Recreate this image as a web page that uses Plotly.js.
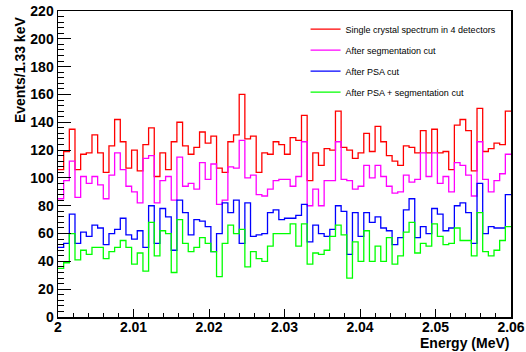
<!DOCTYPE html>
<html>
<head>
<meta charset="utf-8">
<script src="https://cdn.plot.ly/plotly-3.0.1.min.js"></script>
<style>html,body{margin:0;padding:0;background:#fff;}#chart{width:526px;height:352px;}</style>
</head>
<body>
<div id="chart"></div>
<script>
// Histogram binning (MeV)
const binStart = 2.0;
const binWidth = 0.00075;

// Counts per bin
const singleCrystal = [106,119,135,106,117,118,131,118,104,123,142,126,107,120,105,124,136,101,118,106,
126,140,123,117,122,133,125,130,107,104,126,131,160,128,130,104,118,117,126,124,
117,129,127,145,98,118,109,121,120,148,122,120,114,118,132,119,137,126,116,112,
109,123,122,118,134,118,135,118,119,106,138,142,134,105,150,119,121,125,124,148];

const afterSeg = [85,98,112,86,101,96,101,95,85,102,118,106,94,90,82,114,116,82,98,101,
84,115,94,96,92,111,99,110,81,84,108,107,127,100,102,88,87,92,98,99,
99,94,101,126,80,92,80,98,98,126,99,98,92,94,109,100,109,101,94,89,
90,102,97,99,118,101,118,96,101,90,111,109,102,87,126,99,90,98,103,117];

const afterPSA = [50,53,74,53,61,58,66,64,52,60,63,71,59,56,62,50,80,53,78,72,
48,84,75,59,70,69,65,47,60,82,75,84,53,82,58,59,60,75,77,70,
71,71,73,81,54,66,60,58,63,80,76,45,75,58,75,68,72,64,62,52,
57,77,85,57,65,60,78,74,62,64,80,82,75,53,96,60,65,64,64,88];

const afterPSASeg = [35,39,60,41,48,45,50,50,42,47,50,55,50,38,46,33,68,44,62,60,
32,70,53,47,50,57,53,47,29,53,66,60,63,36,47,42,40,51,60,60,
60,67,51,67,38,46,45,48,58,66,59,28,54,40,62,40,51,40,57,38,
44,61,68,46,53,51,67,58,52,53,64,55,55,44,75,47,44,48,55,65];

const seriesNames = ["Single crystal spectrum in 4 detectors","After segmentation cut","After PSA cut","After PSA + segmentation cut"];
const seriesColors = ["#ff0000","#ff00ff","#0000ff","#00ff00"];
const yTickVals = [0,20,40,60,80,100,120,140,160,180,200,220];
const xTickVals = [2,2.01,2.02,2.03,2.04,2.05,2.06];
const xTickText = ["2","2.01","2.02","2.03","2.04","2.05","2.06"];

function stepTrace(counts, name, color){
  const xs = [], ys = [];
  for (let i = 0; i <= counts.length; i++){
    xs.push(binStart + i*binWidth);
    ys.push(i < counts.length ? counts[i] : counts[counts.length-1]);
  }
  return {x: xs, y: ys, type:'scatter', mode:'lines', name: name, legendgroup: name,
          line:{shape:'hv', color: color, width: 1.3}};
}

const allSeries = [singleCrystal, afterSeg, afterPSA, afterPSASeg];
const data = allSeries.map((s,k)=>stepTrace(s, seriesNames[k], seriesColors[k]));

const fontFam = "Liberation Sans, Arial, Helvetica, sans-serif";
const layout = {
  width:526, height:352,
  margin:{l:58, r:15, t:11, b:35},
  paper_bgcolor:'#ffffff', plot_bgcolor:'#ffffff',
  showlegend:true,
  legend:{x:0.5465, y:0.988, xanchor:'left', yanchor:'top', bgcolor:'rgba(255,255,255,0)',
          font:{family:fontFam, size:9, color:'#000'}, tracegroupgap:2, traceorder:'grouped'},
  xaxis:{range:[2,2.06], tickvals:xTickVals, ticktext:xTickText, ticks:'inside', ticklen:8, tickwidth:1,
         tickcolor:'#000', showline:true, linecolor:'#000', linewidth:1.5, mirror:true,
         showgrid:false, zeroline:false, ticklabelstandoff:-3,
         tickfont:{family:fontFam, size:14, color:'#000', weight:'bold'},
         minor:{dtick:0.002, ticks:'inside', ticklen:4, tickcolor:'#000', tickwidth:1, showgrid:false}},
  yaxis:{range:[0,220], tickvals:yTickVals, ticks:'inside', ticklen:13, tickwidth:1,
         tickcolor:'#000', showline:true, linecolor:'#000', linewidth:1.5, mirror:true,
         showgrid:false, zeroline:false,
         tickfont:{family:fontFam, size:14, color:'#000', weight:'bold'},
         minor:{dtick:4, ticks:'inside', ticklen:6, tickcolor:'#000', tickwidth:1, showgrid:false}},
  annotations:[
    {text:"Events/1.33 keV", xref:'paper', yref:'paper', x:-0.084, y:0.81, xanchor:'center', yanchor:'middle',
     textangle:-90, showarrow:false, font:{family:fontFam, size:14, color:'#000', weight:'bold'}},
    {text:"Energy (MeV)", xref:'paper', yref:'paper', x:0.998, y:-0.1144, xanchor:'right', yanchor:'bottom',
     borderpad:0, showarrow:false, font:{family:fontFam, size:14, color:'#000', weight:'bold'}}
  ]
};

Plotly.newPlot('chart', data, layout, {displayModeBar:false, staticPlot:true});
</script>
</body>
</html>
